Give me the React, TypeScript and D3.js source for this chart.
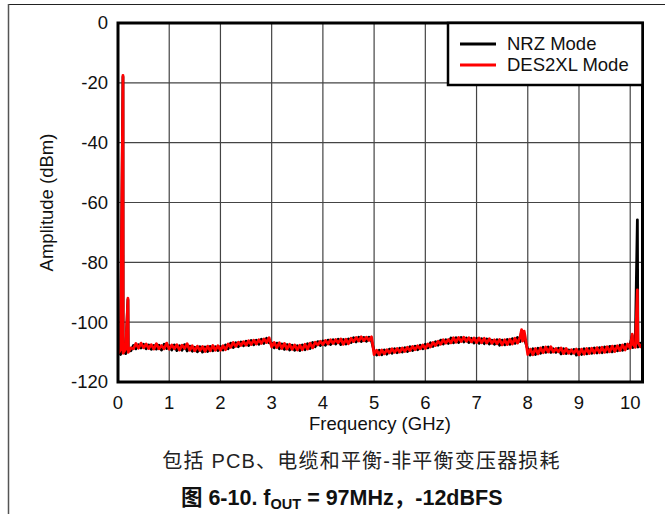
import React from "react";
import * as d3 from "d3";

// ---------- DATA ----------
const FLOOR_STEP = 0.05; // GHz between floor samples
const X_MAX = 10.24;
const xTicks = [0, 1, 2, 3, 4, 5, 6, 7, 8, 9, 10];
const yTicks = [-120, -100, -80, -60, -40, -20, 0];

const redFloor = [
  -110.6, -109.2, -110.4, -109.0, -110.1, -108.6, -108.9, -107.1, -108.7, -107.0,
  -108.6, -107.3, -108.8, -107.5, -109.0, -107.2, -108.9, -107.8, -108.9, -107.0,
  -109.0, -107.6, -108.9, -107.5, -109.3, -107.7, -108.8, -107.2, -109.4, -107.9,
  -109.6, -108.0, -109.5, -108.1, -109.8, -108.0, -109.6, -107.8, -109.4, -107.9,
  -109.4, -107.9, -109.2, -107.3, -108.4, -106.8, -108.1, -106.7, -107.8, -106.5,
  -107.7, -106.2, -107.5, -106.0, -107.3, -105.9, -107.1, -105.6, -106.8, -105.2,
  -108.3, -106.8, -108.5, -106.9, -108.8, -107.1, -109.0, -107.4, -109.1, -107.6,
  -109.3, -107.7, -109.2, -107.4, -109.0, -107.0, -108.6, -106.7, -107.6, -106.4,
  -107.5, -106.1, -107.3, -105.9, -107.1, -105.8, -106.9, -105.6, -107.4, -105.7,
  -107.2, -105.4, -106.5, -105.1, -106.3, -104.9, -106.2, -105.0, -106.1, -104.9,
  -110.8, -109.4, -110.9, -109.3, -110.6, -109.2, -110.3, -108.9, -110.1, -108.8,
  -110.0, -108.6, -109.8, -108.4, -109.5, -108.1, -109.2, -107.9, -108.9, -107.6,
  -108.8, -107.3, -108.3, -106.8, -107.8, -106.4, -107.4, -105.9, -107.0, -105.8,
  -106.9, -105.2, -106.7, -105.1, -106.5, -105.0, -106.4, -105.2, -106.6, -105.3,
  -106.8, -105.3, -106.9, -105.4, -107.0, -105.5, -107.1, -105.9, -107.2, -105.8,
  -107.6, -105.9, -107.5, -105.7, -107.3, -105.4, -107.0, -105.0, -106.3, -104.9,
  -110.8, -109.0, -110.9, -108.8, -110.6, -108.6, -110.2, -108.3, -110.0, -108.2,
  -110.0, -108.8, -109.9, -108.6, -110.5, -108.8, -110.4, -109.2, -110.4, -109.0,
  -110.9, -109.0, -110.7, -108.8, -110.5, -108.7, -110.3, -108.5, -110.2, -108.4,
  -110.1, -108.2, -109.9, -108.0, -109.8, -107.9, -109.5, -107.6, -109.3, -107.3,
  -108.7, -107.3, -108.4, -106.8, -108.2, -106.9,
];

const blackFloor = [
  -109.6, -110.8, -109.4, -110.5, -109.1, -109.6, -107.8, -108.9, -107.5, -108.6,
  -107.4, -108.9, -107.6, -109.1, -107.8, -109.0, -107.7, -109.3, -107.4, -108.8,
  -107.9, -109.3, -107.6, -109.5, -107.9, -109.4, -107.5, -109.6, -108.0, -109.7,
  -108.4, -109.9, -108.2, -110.0, -108.3, -109.8, -108.1, -109.6, -108.2, -109.5,
  -108.1, -109.3, -107.6, -108.9, -107.0, -108.5, -106.9, -108.2, -106.6, -107.9,
  -106.4, -107.8, -106.1, -107.6, -106.0, -107.4, -105.7, -107.1, -105.4, -106.9,
  -106.9, -108.6, -107.0, -108.9, -107.3, -109.1, -107.5, -109.3, -107.7, -109.4,
  -107.9, -109.5, -107.6, -109.2, -107.2, -108.8, -106.8, -108.2, -106.5, -107.8,
  -106.3, -107.7, -106.0, -107.5, -105.9, -107.3, -105.7, -107.5, -105.8, -107.3,
  -105.6, -106.8, -105.2, -106.6, -105.0, -106.5, -105.1, -106.4, -105.0, -106.3,
  -109.6, -111.0, -109.4, -110.9, -109.3, -110.7, -109.0, -110.4, -108.9, -110.2,
  -108.7, -110.0, -108.5, -109.8, -108.2, -109.5, -108.0, -109.2, -107.7, -108.9,
  -107.4, -108.6, -106.9, -108.1, -106.5, -107.7, -106.0, -107.3, -105.9, -107.1,
  -105.3, -106.9, -105.2, -106.8, -105.1, -106.6, -105.3, -106.8, -105.4, -107.0,
  -105.4, -107.1, -105.5, -107.2, -105.6, -107.3, -106.0, -107.4, -105.9, -107.7,
  -106.0, -107.6, -105.8, -107.4, -105.5, -107.1, -105.1, -106.5, -105.0, -106.4,
  -109.1, -111.0, -108.9, -110.8, -108.7, -110.4, -108.4, -110.1, -108.3, -110.1,
  -108.9, -110.1, -108.7, -110.6, -108.9, -110.5, -109.3, -110.6, -109.1, -111.0,
  -109.1, -110.8, -108.9, -110.6, -108.8, -110.4, -108.6, -110.3, -108.5, -110.2,
  -108.3, -110.0, -108.1, -109.9, -108.0, -109.6, -107.7, -109.4, -107.4, -108.8,
  -107.4, -108.5, -106.9, -108.3, -107.0, -108.1,
];

// spurs: [frequency GHz, level dBm]
const redSpurs: [number, number][] = [
  [0.097, -17.5],
  [0.194, -92.0],
  [7.88, -102.5],
  [7.93, -103.0],
  [10.04, -104.0],
  [10.14, -89.2],
];
const blackSpurs: [number, number][] = [
  [0.097, -18.0],
  [0.194, -92.5],
  [7.88, -103.0],
  [10.04, -104.5],
  [10.14, -65.8],
];

const seriesNames = ["NRZ Mode", "DES2XL Mode"];
const seriesColors = ["#000000", "#ff0000"];

// ---------- LAYOUT ----------
const W = 665;
const H = 514;
const PL = 118;
const PR = 642.5;
const PT = 23;
const PB = 382;
const FONT = "'Liberation Sans', Arial, Helvetica, sans-serif";
const CJK_FONT = "'Liberation Sans', Arial, 'Noto Sans CJK SC', sans-serif";

function buildSeries(floor: number[], spurs: [number, number][]) {
  const pts: [number, number][] = floor.map((v, i) => [i * FLOOR_STEP, v]);
  spurs.forEach((s) => pts.push(s));
  pts.sort((a, b) => a[0] - b[0]);
  return pts;
}

export default function App() {
  const x = d3.scaleLinear().domain([0, X_MAX]).range([PL, PR]);
  const y = d3.scaleLinear().domain([-120, 0]).range([PB, PT]);
  const line = d3
    .line<[number, number]>()
    .x((d) => x(d[0]))
    .y((d) => y(d[1]));

  const black = buildSeries(blackFloor, blackSpurs);
  const red = buildSeries(redFloor, redSpurs);

  const legX = 448;
  const legY = PT;
  const legW = PR - legX;
  const legH = 62;

  return (
    <svg
      width={W}
      height={H}
      style={{ position: "absolute", left: 0, top: 0, background: "#fff" }}
      fontFamily={FONT}
    >
      <rect x={0} y={0} width={W} height={H} fill="#fff" />
      {/* page frame */}
      <line x1={8} x2={W} y1={4.5} y2={4.5} stroke="#222" strokeWidth={1} />
      <line x1={8.5} x2={8.5} y1={4} y2={H} stroke="#555" strokeWidth={1.5} />

      <defs>
        <clipPath id="plotClip">
          <rect x={PL} y={PT - 2} width={PR - PL} height={PB - PT + 2} />
        </clipPath>
      </defs>

      {/* grid */}
      {xTicks.map((t) => (
        <line
          key={"gx" + t}
          x1={x(t)}
          x2={x(t)}
          y1={PT}
          y2={PB}
          stroke="#444"
          strokeWidth={1.2}
        />
      ))}
      {yTicks.map((t) => (
        <line
          key={"gy" + t}
          x1={PL}
          x2={PR}
          y1={y(t)}
          y2={y(t)}
          stroke="#444"
          strokeWidth={1.2}
        />
      ))}

      {/* series */}
      <g clipPath="url(#plotClip)" fill="none" strokeLinejoin="round" strokeLinecap="round">
        <path d={line(black) || ""} stroke={seriesColors[0]} strokeWidth={2.8} />
        <path d={line(red) || ""} stroke={seriesColors[1]} strokeWidth={2.8} />
      </g>

      {/* plot border */}
      <rect
        x={PL}
        y={PT}
        width={PR - PL}
        height={PB - PT}
        fill="none"
        stroke="#000"
        strokeWidth={3}
      />

      {/* legend */}
      <rect
        x={legX}
        y={legY}
        width={legW}
        height={legH}
        fill="#fff"
        stroke="#000"
        strokeWidth={2.5}
      />
      {seriesNames.map((n, i) => (
        <g key={n}>
          <line
            x1={460}
            x2={496}
            y1={44 + i * 21}
            y2={44 + i * 21}
            stroke={seriesColors[i]}
            strokeWidth={3}
          />
          <text x={507} y={44 + i * 21} dy="0.35em" fontSize={18.5} fill="#111">
            {n}
          </text>
        </g>
      ))}

      {/* tick labels */}
      {xTicks.map((t) => (
        <text
          key={"tx" + t}
          x={x(t)}
          y={408.5}
          textAnchor="middle"
          fontSize={18.5}
          fill="#111"
        >
          {t}
        </text>
      ))}
      {yTicks.map((t) => (
        <text
          key={"ty" + t}
          x={108}
          y={y(t)}
          dy="0.35em"
          textAnchor="end"
          fontSize={18.5}
          fill="#111"
        >
          {t}
        </text>
      ))}

      {/* axis titles */}
      <text x={380} y={430} textAnchor="middle" fontSize={18.5} fill="#111">
        Frequency (GHz)
      </text>
      <text
        transform={`translate(53, ${(PT + PB) / 2}) rotate(-90)`}
        textAnchor="middle"
        fontSize={18.5}
        fill="#111"
      >
        Amplitude (dBm)
      </text>

      {/* captions */}
      <text
        x={361.5}
        y={468}
        textAnchor="middle"
        fontSize={20}
        letterSpacing={1.2}
        fill="#222"
        fontFamily={CJK_FONT}
      >
        包括 PCB、电缆和平衡-非平衡变压器损耗
      </text>
      <text
        x={341.7}
        y={505}
        textAnchor="middle"
        fontSize={21.5}
        fontWeight="bold"
        fill="#111"
        fontFamily={CJK_FONT}
      >
        图 6-10. f
        <tspan fontSize={14.5} dy={4}>
          OUT
        </tspan>
        <tspan dy={-4}> = 97MHz，-12dBFS</tspan>
      </text>
    </svg>
  );
}
